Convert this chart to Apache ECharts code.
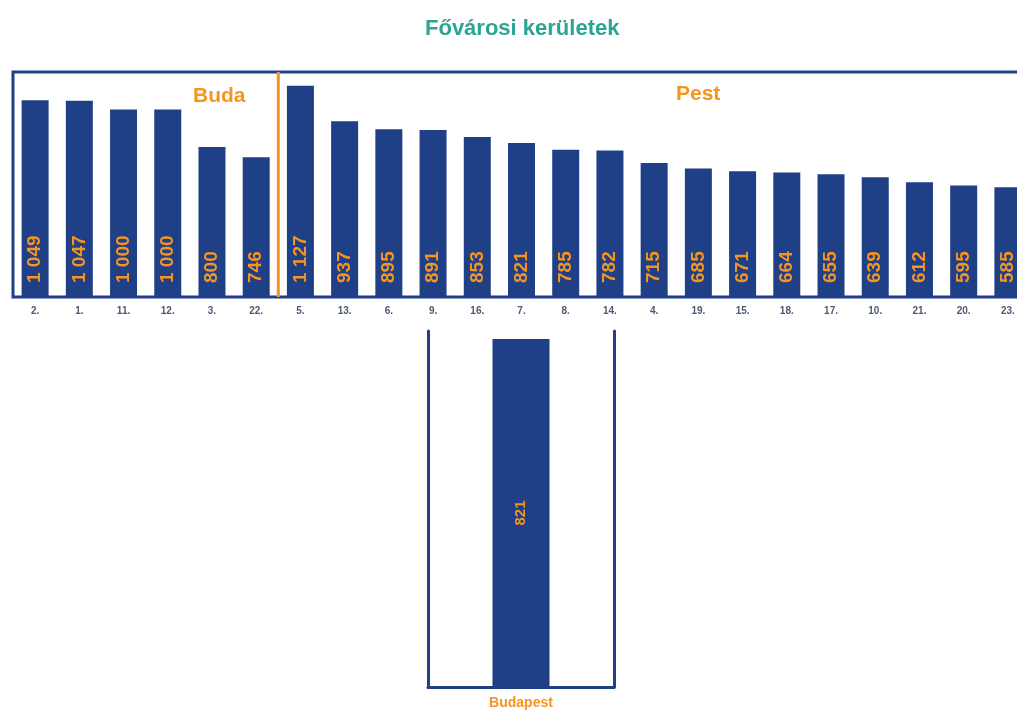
<!DOCTYPE html>
<html>
<head>
<meta charset="utf-8">
<script src="https://cdn.jsdelivr.net/npm/echarts@6/dist/echarts.min.js"></script>
<style>
  html, body { margin: 0; padding: 0; background: #fff; overflow: hidden; }
  /* a felső keret jobb széle kilóg a képből, mint az eredetin */
  #chart { width: 1032px; height: 715px; }
</style>
</head>
<body>
<div id="chart"></div>
<script>
// kerületek (felső panel), Buda első 6, utána Pest
const districts = ['2.', '1.', '11.', '12.', '3.', '22.', '5.', '13.', '6.', '9.', '16.', '7.', '8.', '14.', '4.', '19.', '15.', '18.', '17.', '10.', '21.', '20.', '23.']
const districtValues = [1049, 1047, 1000, 1000, 800, 746, 1127, 937, 895, 891, 853, 821, 785, 782, 715, 685, 671, 664, 655, 639, 612, 595, 585]
const budaCount = 6
// alsó panel
const cityName = ['Budapest']
const cityValue = [821]

const blue = '#1f3f87'
const orange = '#f7941d'

// ezres tagolás szóközzel
function fmt(v) {
  return String(v).replace(/\B(?=(\d{3})+(?!\d))/g, ' ')
}

const chart = echarts.init(document.getElementById('chart'))

const labelsText = [
  { type: 'text', left: 193, top: 86, style: { text: 'Buda', fill: orange, font: 'bold 21px Arial' } },
  { type: 'text', left: 676, top: 84, style: { text: 'Pest', fill: orange, font: 'bold 21px Arial' } }
]

const option = {
  animation: false,
  title: {
    text: 'Fővárosi kerületek',
    left: 420,
    top: 13,
    textStyle: { color: '#2aa593', fontSize: 22, fontWeight: 'bold', fontFamily: 'Arial' }
  },
  grid: [
    { left: 13, width: 1017, top: 72, height: 225, show: true, borderColor: blue, borderWidth: 3, backgroundColor: 'transparent' },
    { left: 428, width: 186, top: 331, height: 356 }
  ],
  xAxis: [
    {
      type: 'category',
      gridIndex: 0,
      data: districts,
      axisLine: { show: false },
      axisTick: { show: false },
      axisLabel: { color: '#4d5a73', fontSize: 10, fontWeight: 'bold', fontFamily: 'Arial', margin: 9, interval: 0 },
      splitLine: { show: false }
    },
    {
      type: 'category',
      gridIndex: 1,
      data: cityName,
      axisLine: { show: true, lineStyle: { color: blue, width: 3 } },
      axisTick: { show: false },
      axisLabel: { color: orange, fontSize: 14, fontWeight: 'bold', fontFamily: 'Arial', margin: 9 }
    }
  ],
  yAxis: [
    { type: 'value', gridIndex: 0, min: 0, max: 1200, show: false, splitLine: { show: false } },
    {
      type: 'value', gridIndex: 1, min: 0, max: 840, position: 'left',
      axisLine: { show: true, lineStyle: { color: blue, width: 3 } },
      axisTick: { show: false }, axisLabel: { show: false }, splitLine: { show: false }
    },
    {
      type: 'value', gridIndex: 1, min: 0, max: 840, position: 'right',
      axisLine: { show: true, lineStyle: { color: blue, width: 3 } },
      axisTick: { show: false }, axisLabel: { show: false }, splitLine: { show: false }
    }
  ],
  series: [
    {
      type: 'bar',
      xAxisIndex: 0,
      yAxisIndex: 0,
      data: districtValues,
      barWidth: 27,
      itemStyle: { color: blue },
      label: {
        show: true,
        position: 'insideBottom',
        rotate: 90,
        align: 'left',
        verticalAlign: 'middle',
        distance: 14,
        color: orange,
        fontSize: 19,
        fontWeight: 'bold',
        fontFamily: 'Arial',
        formatter: (p) => fmt(p.value)
      }
    },
    {
      type: 'bar',
      xAxisIndex: 1,
      yAxisIndex: 1,
      data: cityValue,
      barWidth: 57,
      itemStyle: { color: blue },
      label: {
        show: true,
        position: 'inside',
        rotate: 90,
        color: orange,
        fontSize: 15,
        fontWeight: 'bold',
        fontFamily: 'Arial',
        formatter: (p) => fmt(p.value)
      }
    }
  ],
  graphic: labelsText
}

chart.setOption(option)

// Buda / Pest elválasztó vonal a két kategória határán
const xa = chart.convertToPixel({ xAxisIndex: 0 }, districts[budaCount - 1])
const xb = chart.convertToPixel({ xAxisIndex: 0 }, districts[budaCount])
const yTop = chart.convertToPixel({ yAxisIndex: 0 }, 1200)
const yBot = chart.convertToPixel({ yAxisIndex: 0 }, 0)
const xSep = (xa + xb) / 2
chart.setOption({
  graphic: labelsText.concat([
    { type: 'line', shape: { x1: xSep, y1: yTop, x2: xSep, y2: yBot }, style: { stroke: orange, lineWidth: 3 }, z: 10 }
  ])
})
</script>
</body>
</html>
